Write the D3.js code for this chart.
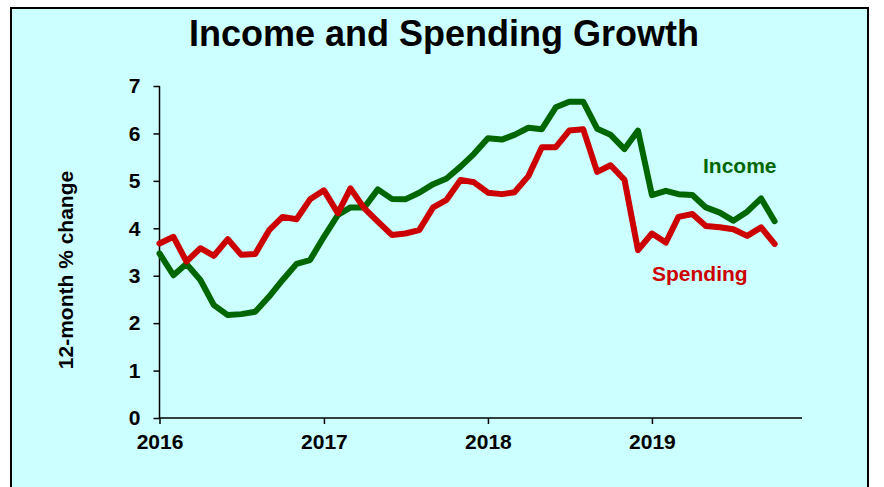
<!DOCTYPE html>
<html>
<head>
<meta charset="utf-8">
<script src="https://cdn.jsdelivr.net/npm/d3@7"></script>
<style>
  html, body { margin: 0; padding: 0; background: #ffffff; }
  svg { display: block; }
  text { font-family: "Liberation Sans", Arial, sans-serif; font-weight: bold; }
</style>
</head>
<body>
<svg id="chart" width="884" height="487"></svg>
<script>
// ---- data (monthly, Jan 2016 .. Oct 2019) ----
const startMonth = "2016-01";
const income = [3.47, 3.01, 3.25, 2.91, 2.38, 2.17, 2.19, 2.24, 2.56, 2.91, 3.25, 3.33,
                3.82, 4.28, 4.44, 4.44, 4.82, 4.62, 4.61, 4.75, 4.93, 5.05, 5.30, 5.57,
                5.90, 5.87, 5.97, 6.12, 6.09, 6.55, 6.67, 6.67, 6.10, 5.97, 5.67, 6.06,
                4.70, 4.79, 4.72, 4.70, 4.44, 4.33, 4.16, 4.35, 4.63, 4.15];
const spending = [3.68, 3.82, 3.30, 3.58, 3.42, 3.77, 3.44, 3.46, 3.96, 4.24, 4.19, 4.61,
                  4.80, 4.32, 4.84, 4.42, 4.14, 3.86, 3.89, 3.96, 4.44, 4.60, 5.02, 4.97,
                  4.75, 4.72, 4.76, 5.10, 5.71, 5.71, 6.06, 6.09, 5.19, 5.33, 5.02, 3.54,
                  3.89, 3.70, 4.24, 4.30, 4.05, 4.02, 3.98, 3.84, 4.02, 3.67];
const xTickLabels = ["2016", "2017", "2018", "2019"];
const yTicks = [0, 1, 2, 3, 4, 5, 6, 7];
const seriesNames = ["Income", "Spending"];
const titleText = "Income and Spending Growth";
const yAxisTitle = "12-month % change";

const parse = d3.timeParse("%Y-%m");
const d0 = parse(startMonth);
const dates = income.map((_, i) => d3.timeMonth.offset(d0, i));

const svg = d3.select("#chart");

// panel
svg.append("rect").attr("x", 11).attr("y", 8).attr("width", 857).attr("height", 500)
  .attr("fill", "#ccffff").attr("stroke", "#000").attr("stroke-width", 2);

const x = d3.scaleTime()
  .domain([d0, parse("2019-12")])
  .range([159.5, 802]);
const y = d3.scaleLinear().domain([0, 7]).range([418, 86]);

// title
svg.append("text").attr("x", 444).attr("y", 46).attr("text-anchor", "middle")
  .attr("font-size", 36).attr("fill", "#000").text(titleText);

// y axis
const yAxis = svg.append("g").attr("transform", "translate(159.5,0)")
  .call(d3.axisLeft(y).tickValues(yTicks).tickFormat(d3.format("d")).tickSize(6).tickPadding(13));
yAxis.select(".domain").attr("stroke", "#000").attr("stroke-width", 1.5).attr("d", `M0,${y(7)}V${y(0)}`);
yAxis.selectAll(".tick line").attr("stroke", "#000").attr("stroke-width", 1.5);
yAxis.selectAll(".tick text").attr("font-size", 21).attr("fill", "#000")
  .attr("font-family", "'Liberation Sans', Arial, sans-serif").attr("font-weight", "bold");

// x axis
const xTickDates = xTickLabels.map(s => parse(s + "-01"));
const xAxis = svg.append("g").attr("transform", `translate(0,${y(0)})`)
  .call(d3.axisBottom(x).tickValues(xTickDates).tickFormat(d3.timeFormat("%Y")).tickSize(6).tickPadding(10));
xAxis.select(".domain").attr("stroke", "#000").attr("stroke-width", 1.5).attr("d", `M${x.range()[0]},0H${x.range()[1]}`);
xAxis.selectAll(".tick line").attr("stroke", "#000").attr("stroke-width", 1.5);
xAxis.selectAll(".tick text").attr("font-size", 21).attr("fill", "#000")
  .attr("font-family", "'Liberation Sans', Arial, sans-serif").attr("font-weight", "bold");

// y axis title
svg.append("text").attr("transform", "translate(73,270) rotate(-90)")
  .attr("text-anchor", "middle").attr("font-size", 21).attr("fill", "#000").text(yAxisTitle);

// lines
const line = d3.line().x((d, i) => x(dates[i])).y(d => y(d));
svg.append("path").datum(income).attr("d", line).attr("fill", "none")
  .attr("stroke", "#006600").attr("stroke-width", 6).attr("stroke-linejoin", "round").attr("stroke-linecap", "round");
svg.append("path").datum(spending).attr("d", line).attr("fill", "none")
  .attr("stroke", "#cc0000").attr("stroke-width", 6).attr("stroke-linejoin", "round").attr("stroke-linecap", "round");

// series labels
svg.append("text").attr("x", 703).attr("y", 173).attr("font-size", 21).attr("fill", "#006600").text(seriesNames[0]);
svg.append("text").attr("x", 652).attr("y", 281).attr("font-size", 21).attr("fill", "#cc0000").text(seriesNames[1]);
</script>
</body>
</html>
